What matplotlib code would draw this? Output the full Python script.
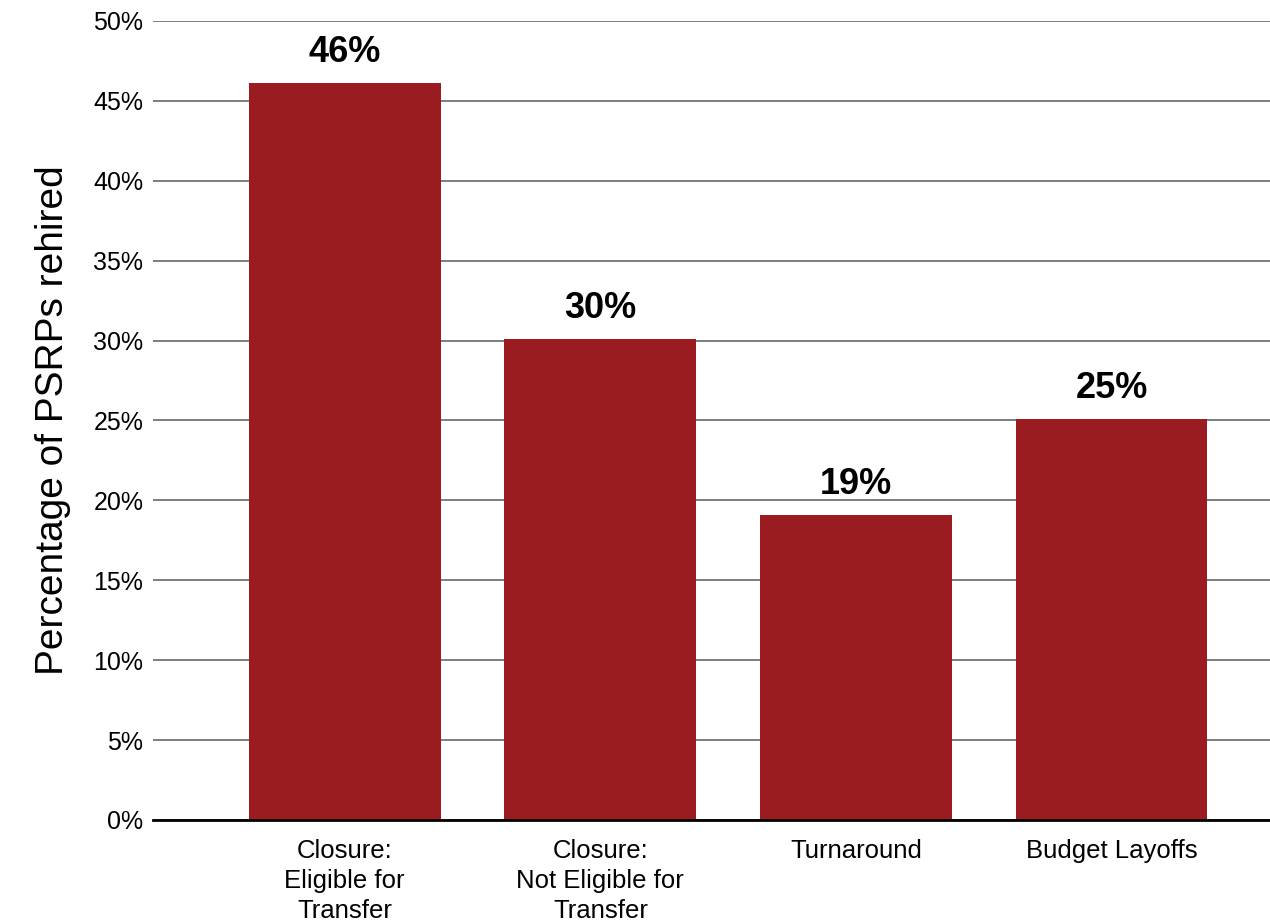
import matplotlib.pyplot as plt
from matplotlib.ticker import FuncFormatter

plt.rcParams['font.family'] = ['Liberation Sans', 'DejaVu Sans']

# datos del grafico
categories = ["Closure:\nEligible for\nTransfer", "Closure:\nNot Eligible for\nTransfer",
              "Turnaround", "Budget Layoffs"]
values = [46.1, 30.1, 19.1, 25.1]
labels = ["46%", "30%", "19%", "25%"]
yticks = list(range(0, 51, 5))

fig = plt.figure(figsize=(12.7, 9.24), dpi=100)
ax = fig.add_axes([0.1205, 0.1126, 0.8795, 0.8647])

x = list(range(len(categories)))
bars = ax.bar(x, values, width=0.75, color='#9A1C21', zorder=3)

# etiquetas sobre cada barra
for b, lab in zip(bars, labels):
    ax.annotate(lab, (b.get_x() + b.get_width() / 2, b.get_height()),
                xytext=(0, 15), textcoords='offset points',
                ha='center', va='baseline', fontsize=26, fontweight='bold')

ax.set_ylim(0, 50)
ax.set_xlim(-0.75, 3.62)
ax.set_yticks(yticks)
ax.yaxis.set_major_formatter(FuncFormatter(lambda v, p: f"{int(v)}%"))
ax.grid(axis='y', color='#5a5a5a', linewidth=1.1, zorder=0)
ax.set_axisbelow(True)

ax.set_xticks(x)
ax.set_xticklabels(categories, fontsize=18.5, va='top', linespacing=1.3)
ax.tick_params(axis='x', length=0, pad=14)
ax.tick_params(axis='y', length=0, labelsize=18, pad=7)

for s in ['top', 'right', 'left']:
    ax.spines[s].set_visible(False)
ax.spines['bottom'].set_linewidth(2)
ax.spines['bottom'].set_color('black')
ax.spines['bottom'].set_zorder(4)

ax.set_ylabel("Percentage of PSRPs rehired", fontsize=28, labelpad=16)

fig.savefig("out.png", dpi=100)
